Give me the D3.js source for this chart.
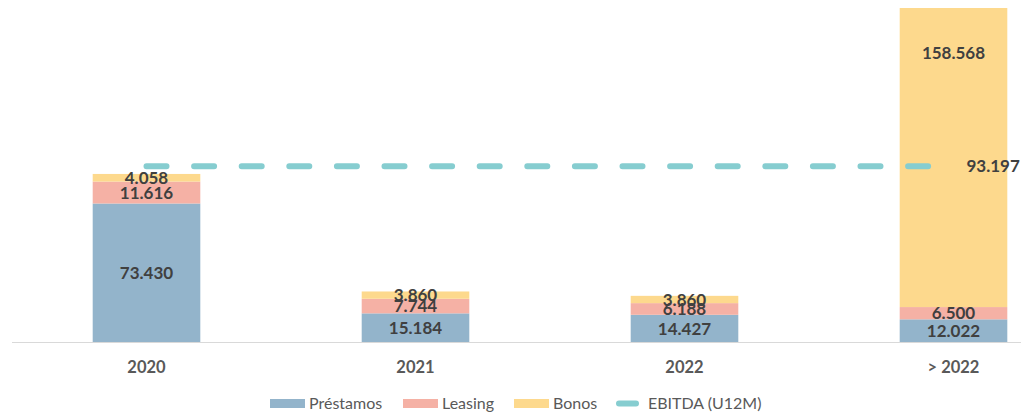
<!DOCTYPE html>
<html>
<head>
<meta charset="utf-8">
<script src="https://cdn.jsdelivr.net/npm/d3@7"></script>
<style>
  body { margin: 0; background: #fff; }
  svg { display: block; font-family: "Lato", "Open Sans", sans-serif; }
</style>
</head>
<body>
<svg width="1021" height="416"></svg>
<script>
// categories and series (thousands, es-CL number format)
const categories = ["2020", "2021", "2022", "> 2022"];
const prestamos = [73.430, 15.184, 14.427, 12.022];
const leasing = [11.616, 7.744, 6.188, 6.500];
const bonos = [4.058, 3.860, 3.860, 158.568];
const ebitda = 93.197;

const seriesNames = ["Préstamos", "Leasing", "Bonos"];
const seriesColors = ["#93b4cb", "#f5b1a5", "#fdd98d"];
const lineColor = "#86cdd0";

const fmt = v => v.toFixed(3);

const svg = d3.select("svg");

const x = d3.scaleBand()
    .domain(categories)
    .range([12, 1088])
    .paddingInner(0.6)
    .paddingOuter(0.3);

const totals = categories.map((c, i) => prestamos[i] + leasing[i] + bonos[i]);
const y = d3.scaleLinear()
    .domain([0, d3.max(totals)])
    .range([342, 8]);

// build rows for stacking
const rows = categories.map((c, i) => ({
    cat: c, "Préstamos": prestamos[i], "Leasing": leasing[i], "Bonos": bonos[i]
}));
const stacked = d3.stack().keys(seriesNames)(rows);

// baseline
svg.append("line")
    .attr("x1", 12).attr("x2", 1021)
    .attr("y1", y(0) + 0.5).attr("y2", y(0) + 0.5)
    .attr("stroke", "#d9d9d9")
    .attr("stroke-width", 1);

const layer = svg.selectAll("g.layer")
    .data(stacked)
    .join("g")
    .attr("class", "layer")
    .attr("fill", (d, i) => seriesColors[i]);

layer.selectAll("rect")
    .data(d => d)
    .join("rect")
    .attr("x", d => x(d.data.cat))
    .attr("width", x.bandwidth())
    .attr("y", d => y(d[1]))
    .attr("height", d => y(d[0]) - y(d[1]));

// EBITDA dashed line across category centres
const lineData = [categories[0], categories[categories.length - 1]];
svg.append("path")
    .attr("d", d3.line()
        .x(c => x(c) + x.bandwidth() / 2)
        .y(() => y(ebitda))(lineData))
    .attr("fill", "none")
    .attr("stroke", lineColor)
    .attr("stroke-width", 6)
    .attr("stroke-linecap", "round")
    .attr("stroke-dasharray", "20 27.6");

// segment labels
const labels = svg.append("g")
    .attr("font-size", 17)
    .attr("font-weight", "bold")
    .attr("fill", "#404040")
    .attr("text-anchor", "middle");

stacked.forEach(s => {
    s.forEach(d => {
        // the tall bonos segment has its label placed near the top (as in the original)
        const tall = (y(d[0]) - y(d[1])) > 200;
        labels.append("text")
            .attr("x", x(d.data.cat) + x.bandwidth() / 2)
            .attr("y", tall ? y(d[1]) + 45 : (y(d[0]) + y(d[1])) / 2)
            .attr("dy", "0.36em")
            .text(fmt(d[1] - d[0]));
    });
});

// EBITDA label
svg.append("text")
    .attr("x", x(categories[3]) + x.bandwidth() / 2 + 13)
    .attr("y", y(ebitda))
    .attr("dy", "0.36em")
    .attr("font-size", 17)
    .attr("font-weight", "bold")
    .attr("fill", "#404040")
    .text(fmt(ebitda));

// category labels
svg.append("g")
    .selectAll("text")
    .data(categories)
    .join("text")
    .attr("x", c => x(c) + x.bandwidth() / 2)
    .attr("y", 367)
    .attr("dy", "0.36em")
    .attr("text-anchor", "middle")
    .attr("font-size", 16.5)
    .attr("font-weight", "bold")
    .attr("fill", "#595959")
    .text(c => c);

// legend
const legendItems = [
    {name: "Préstamos", color: seriesColors[0], type: "rect", x: 270},
    {name: "Leasing", color: seriesColors[1], type: "rect", x: 403},
    {name: "Bonos", color: seriesColors[2], type: "rect", x: 514},
    {name: "EBITDA (U12M)", color: lineColor, type: "line", x: 616}
];
const legend = svg.append("g").attr("font-size", 16).attr("fill", "#595959");
const li = legend.selectAll("g")
    .data(legendItems)
    .join("g")
    .attr("transform", d => `translate(${d.x},403)`);
li.filter(d => d.type === "rect").append("rect")
    .attr("x", 0).attr("y", -4).attr("width", 35).attr("height", 9)
    .attr("fill", d => d.color);
li.filter(d => d.type === "line").append("line")
    .attr("x1", 3).attr("x2", 20).attr("y1", 0.5).attr("y2", 0.5)
    .attr("stroke", d => d.color)
    .attr("stroke-width", 6)
    .attr("stroke-linecap", "round");
li.append("text")
    .attr("x", d => d.type === "line" ? 32 : 39)
    .attr("y", 0)
    .attr("dy", "0.36em")
    .text(d => d.name);
</script>
</body>
</html>
